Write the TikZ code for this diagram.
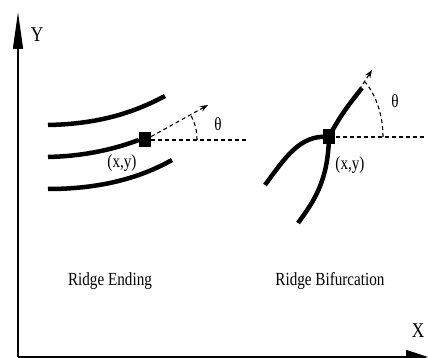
\documentclass[tikz,border=0pt]{standalone}
\usepackage{fontspec}
\setmainfont[FakeStretch=0.82]{Liberation Serif}
\usepackage{tikz}
\usetikzlibrary{arrows.meta,positioning}

\begin{document}
\begin{tikzpicture}[x=1pt, y=-1pt, every node/.style={font=\fontsize{18.5}{22}\selectfont, inner sep=0pt}, axislab/.style={anchor=base, font=\fontsize{21}{24}\selectfont}, axis/.style={line width=1.6pt}, ridge/.style={line width=4.5pt}, minutia/.style={fill=black, minimum width=12pt, minimum height=15pt}, guide/.style={line width=1.1pt, dash pattern=on 4pt off 3pt}, dir/.style={guide, -{Stealth[length=8pt, width=6pt]}}]
\useasboundingbox (0,0) rectangle (428,358);
% axes
\coordinate (origin) at (18,357);
\coordinate (ytip) at (18,12);
\coordinate (xtip) at (428,357);
\draw[axis, -{Triangle[length=37pt, width=10pt]}] (origin)--(ytip);
\draw[axis, -{Triangle[length=22pt, width=14pt]}] (origin)--(xtip);
\node[axislab] (ylab) at (37,42) {Y};
\node[axislab] (xlab) at (418,337) {X};
% ridge ending
\node[minutia] (endpt) at (145,140) {};
\coordinate (endref) at (248,140);
\coordinate (enddir) at (208,105);
\coordinate (endarcA) at (197,140);
\coordinate (endarcB) at (190.5,114.8);
\coordinate (topA) at (48,125); \coordinate (topB) at (165,96);
\coordinate (midA) at (48,157);
\coordinate (lowA) at (48,189); \coordinate (lowB) at (172,160);
\draw[ridge] (topA) .. controls (100,124) and (135,112) .. (topB);
\draw[ridge] (midA) .. controls (90,156) and (120,147) .. (endpt.west);
\draw[ridge] (lowA) .. controls (100,189) and (140,178) .. (lowB);
\draw[guide] (endpt.east)--(endref);
\draw[dir] (endpt)--(enddir);
\draw[guide] (endarcA) .. controls (197,131) and (195,122.5) .. (endarcB);
\node[anchor=base] (endtheta) at (218,131) {θ};
\node (endxy) at (122,163) {(x,y)};
% ridge bifurcation
\coordinate (bifsq) at (329,137);
\coordinate (bifref) at (425,137);
\coordinate (bifdir) at (372,70);
\coordinate (bifarcA) at (383,137);
\coordinate (bifarcB) at (365,82);
\coordinate (upB) at (362,88);
\coordinate (leftB) at (265,185);
\coordinate (downB) at (298,223);
\draw[dir] (bifsq)--(bifdir);
\draw[guide] (bifsq)--(bifref);
\draw[guide] (bifarcA) .. controls (383,115) and (376,95) .. (bifarcB);
\draw[ridge] (bifsq) .. controls (339,117) and (350,103) .. (upB);
\draw[ridge] (bifsq) .. controls (300,134) and (285,158) .. (leftB);
\draw[ridge] (bifsq) .. controls (328,180) and (315,200) .. (downB);
\node[minutia] (bifpt) at (bifsq) {};
\node[anchor=base] (biftheta) at (395,108) {θ};
\node (bifxy) at (350,165) {(x,y)};
% captions
\node[anchor=base] (endcap) at (110,285) {Ridge Ending};
\node[anchor=base] (bifcap) at (330,285) {Ridge Bifurcation};
\end{tikzpicture}
\end{document}
